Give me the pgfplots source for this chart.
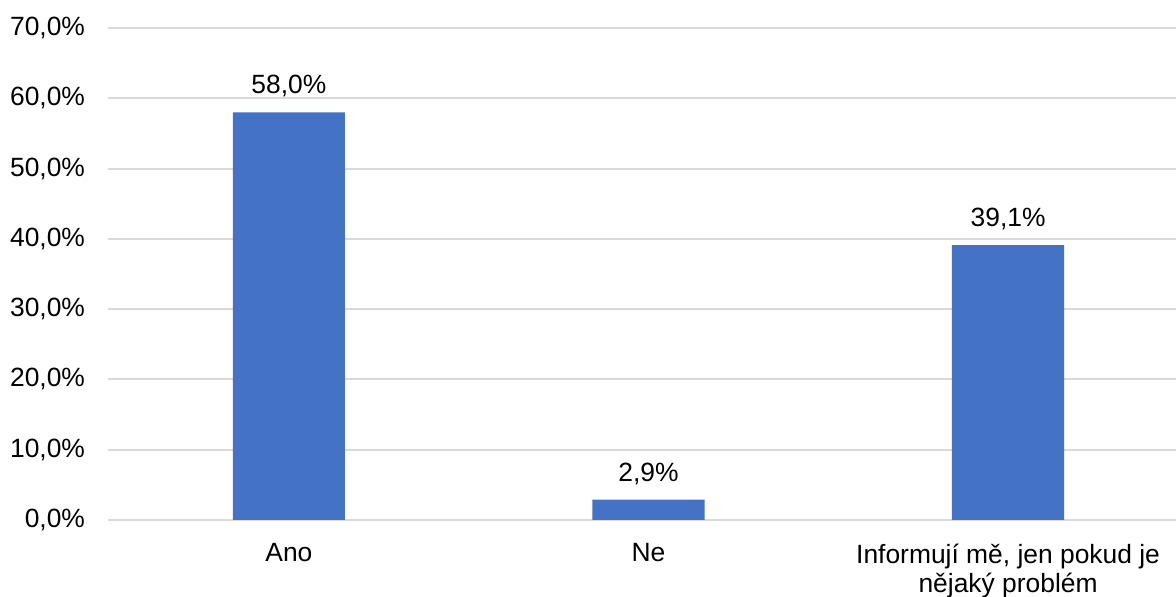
\documentclass[border=0pt]{standalone}
\usepackage{fontspec}
\setmainfont{Liberation Sans}
\usepackage{pgfplots}
\pgfplotsset{compat=1.18}
\definecolor{barblue}{HTML}{4472C4}
\definecolor{gridgray}{HTML}{D9D9D9}

\begin{document}
\begin{tikzpicture}
\path[use as bounding box] (-54pt,-38.5pt) rectangle (534pt,260pt);
\begin{axis}[
    scale only axis,
    width=534pt, height=246pt,
    xmin=-0.503, xmax=2.467,
    ymin=0, ymax=70,
    ytick={0,10,...,70},
    xtick={0,1,2},
    xticklabels={Ano, Ne, {Informují mě, jen pokud je\\nějaký problém}},
    xticklabel style={align=center, font=\fontsize{13.2}{14.5}\selectfont, yshift=-4pt},
    yticklabel style={font=\fontsize{13.2}{15}\selectfont, xshift=-8pt},
    /pgf/number format/assume math mode=true,
    yticklabel={\pgfmathprintnumber[fixed,fixed zerofill,precision=1,use comma]{\tick}\%},
    ymajorgrids=true,
    grid style={gridgray, line width=1pt},
    axis line style={draw=none},
    major tick style={draw=none},
    ybar,
    bar width=0.312,
    nodes near coords={\pgfmathprintnumber[fixed,fixed zerofill,precision=1,use comma]{\pgfplotspointmeta}\%},
    nodes near coords style={font=\fontsize{13.2}{15}\selectfont, yshift=4pt},
]
\addplot[fill=barblue, draw=none] coordinates {(0,58.0) (1,2.9) (2,39.1)};
\end{axis}
\end{tikzpicture}
\end{document}
